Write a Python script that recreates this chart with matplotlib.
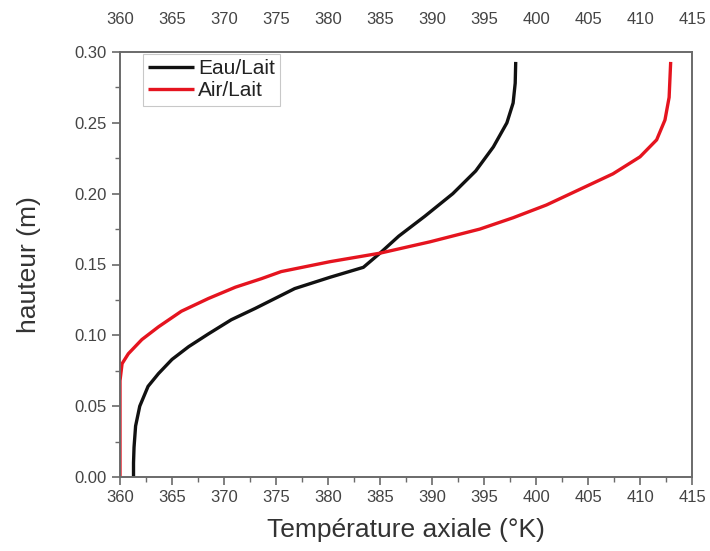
import matplotlib
matplotlib.use("Agg")
import matplotlib.pyplot as plt
from matplotlib.ticker import MultipleLocator

plt.rcParams['font.family'] = ['Liberation Sans', 'DejaVu Sans']

# Axial temperature profiles (K) against height (m)
eau_T = [361.3, 361.3, 361.35, 361.5, 361.9, 362.7, 363.7, 365.0, 366.6, 368.5,
         370.7, 373.0, 374.9, 376.8, 380.2, 383.4, 385.0, 386.8, 389.3, 392.0,
         394.2, 395.9, 397.2, 397.8, 398.0, 398.05]
eau_h = [0.000, 0.010, 0.021, 0.036, 0.050, 0.064, 0.073, 0.083, 0.092, 0.101,
         0.111, 0.119, 0.126, 0.133, 0.141, 0.148, 0.158, 0.170, 0.184, 0.200,
         0.216, 0.233, 0.250, 0.264, 0.278, 0.293]

air_T = [360.0, 360.0, 360.2, 360.8, 362.1, 363.7, 365.9, 368.5, 371.1, 373.6,
         375.5, 380.2, 385.0, 389.8, 394.6, 397.8, 401.0, 404.2, 407.4, 410.0,
         411.6, 412.4, 412.8, 412.95]
air_h = [0.000, 0.068, 0.080, 0.087, 0.097, 0.106, 0.117, 0.126, 0.134, 0.140,
         0.145, 0.152, 0.158, 0.166, 0.175, 0.183, 0.192, 0.203, 0.214, 0.226,
         0.238, 0.252, 0.268, 0.293]

x_ticks = list(range(360, 416, 5))
y_ticks = [0.00, 0.05, 0.10, 0.15, 0.20, 0.25, 0.30]

fig = plt.figure(figsize=(7.10, 5.51), dpi=100)
ax = fig.add_axes([120/710, 1 - 477/551, (692 - 120)/710, (477 - 52)/551])

ax.plot(eau_T, eau_h, color='#111111', lw=2.4, label='Eau/Lait',
        solid_joinstyle='round', solid_capstyle='butt')
ax.plot(air_T, air_h, color='#e5141f', lw=2.4, label='Air/Lait',
        solid_joinstyle='round', solid_capstyle='butt')

ax.set_xlim(360, 415)
ax.set_ylim(0, 0.30)
ax.set_xticks(x_ticks)
ax.set_yticks(y_ticks)
ax.xaxis.set_minor_locator(MultipleLocator(2.5))
ax.yaxis.set_minor_locator(MultipleLocator(0.025))
ax.set_yticklabels([f"{v:.2f}" for v in y_ticks])

spine_col = '#6a6a6a'
for s in ax.spines.values():
    s.set_color(spine_col)
    s.set_linewidth(1.4)

ax.tick_params(axis='both', which='major', direction='out', length=6, width=1.2,
               color=spine_col, labelsize=12, labelcolor='#444444')
ax.tick_params(axis='both', which='minor', direction='out', length=3.5, width=1.0,
               color=spine_col)
ax.tick_params(axis='x', pad=3)

top = ax.secondary_xaxis('top')
top.set_xticks(x_ticks)
top.tick_params(axis='x', length=0, labelsize=12, labelcolor='#444444', pad=18)
top.spines['top'].set_visible(False)

ax.set_xlabel('Température axiale (°K)', fontsize=19, color='#333333', labelpad=10)
ax.set_ylabel('hauteur (m)', fontsize=19, color='#333333', labelpad=24)

leg = ax.legend(loc='upper left', bbox_to_anchor=(0.04, 0.995), fontsize=15,
                frameon=True, fancybox=False, edgecolor='#bbbbbb',
                handlelength=2.2, handletextpad=0.2, borderpad=0.25,
                labelspacing=0.15, borderaxespad=0)
leg.get_frame().set_linewidth(0.8)
for t in leg.get_texts():
    t.set_color('#222222')

fig.savefig('out.png', dpi=100)
